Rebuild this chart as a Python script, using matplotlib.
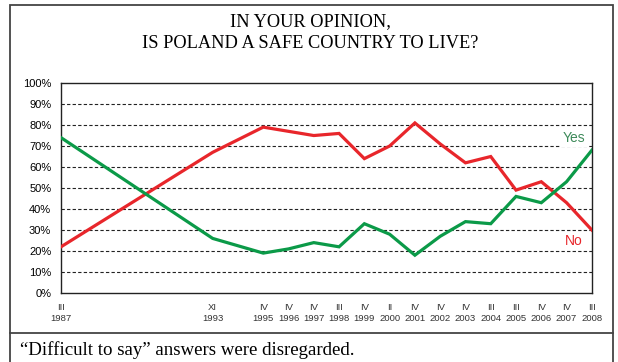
import numpy as np
import matplotlib.pyplot as plt
from matplotlib.patches import Rectangle
from matplotlib.lines import Line2D

# survey waves
months = ["III", "XI", "IV", "IV", "IV", "III", "IV", "II", "IV", "IV",
          "IV", "III", "III", "IV", "IV", "III"]
years = [1987, 1993, 1995, 1996, 1997, 1998, 1999, 2000, 2001, 2002,
         2003, 2004, 2005, 2006, 2007, 2008]

yes = [74, 26, 19, 21, 24, 22, 33, 28, 18, 27, 34, 33, 46, 43, 53, 68]
no = [22, 67, 79, 77, 75, 76, 64, 70, 81, 71, 62, 65, 49, 53, 43, 30]

x = np.array(years) - years[0]

fig = plt.figure(figsize=(6.18, 3.62), dpi=100)
ax = fig.add_axes([0.0987, 0.1906, 0.859, 0.580])

ax.plot(x, no, color="#e8262b", lw=2.3, solid_joinstyle="miter", zorder=3)
ax.plot(x, yes, color="#0b9a48", lw=2.3, solid_joinstyle="miter", zorder=3)

ax.set_xlim(0, x[-1])
ax.set_ylim(0, 100)
ax.set_yticks(range(0, 101, 10))
ax.set_yticklabels([f"{v}%" for v in range(0, 101, 10)],
                   fontsize=8, family="Liberation Sans")
for v in range(10, 100, 10):
    ax.axhline(v, color="#222222", lw=0.8, ls=(0, (3, 2)), zorder=1)

ax.set_xticks(x)
ax.set_xticklabels([f"{m}\n{y}" for m, y in zip(months, years)], fontsize=6.8,
                   family=["Liberation Sans Narrow", "Liberation Sans"],
                   color="#333333", linespacing=1.3)
ax.tick_params(length=0, pad=7)
for s in ax.spines.values():
    s.set_linewidth(1.0)
    s.set_color("#222222")

ax.text(20.3, 74, "Yes", color="#3d8a5a", fontsize=10, family="Liberation Sans",
        ha="center", va="center", zorder=2,
        bbox=dict(facecolor="white", edgecolor="none", pad=1.5))
ax.text(20.3, 25, "No", color="#e8262b", fontsize=10, family="Liberation Sans",
        ha="center", va="center", zorder=2)

fig.text(0.502, 0.909, "IN YOUR OPINION,\nIS POLAND A SAFE COUNTRY TO LIVE?",
         ha="center", va="center", fontsize=13.2, family="Liberation Serif",
         linespacing=1.38)
fig.text(0.032, 0.033, "\u201cDifficult to say\u201d answers were disregarded.",
         ha="left", va="center", fontsize=13.6, family="Liberation Serif")

# outer frame and footnote divider
fig.patches.append(Rectangle((10 / 618, -0.05), 602.5 / 618, 1.05 - 5 / 362,
                             transform=fig.transFigure, fill=False,
                             edgecolor="#444444", lw=1.3))
fig.lines.append(Line2D([10 / 618, 612.5 / 618], [1 - 333 / 362] * 2,
                        transform=fig.transFigure, color="#444444", lw=1.3))

fig.savefig("out.png", dpi=100)
